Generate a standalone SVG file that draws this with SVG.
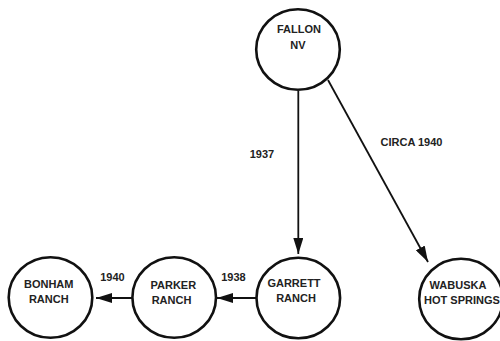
<svg xmlns="http://www.w3.org/2000/svg" width="500" height="341" viewBox="0 0 500 341">
<defs>
<marker id="ah" markerWidth="16" markerHeight="10" refX="16" refY="5" orient="auto" markerUnits="userSpaceOnUse">
<path d="M0,0 L16,5 L0,10 Z" fill="#111"/>
</marker>
<style>
.node ellipse{fill:#fff;stroke:#111;stroke-width:2.6}
.node text, .lbl{font-family:"Liberation Sans",Arial,sans-serif;font-size:11px;font-weight:bold;fill:#222;text-anchor:middle}
.edge{stroke:#111;stroke-width:1.8;fill:none}
</style>
</defs>
<rect width="500" height="341" fill="#fff"/>
<g id="connectors">
<line class="edge" x1="298.3" y1="91" x2="298.3" y2="254" marker-end="url(#ah)"/>
<line class="edge" x1="328" y1="80" x2="428" y2="262" marker-end="url(#ah)"/>
<line class="edge" x1="256" y1="298" x2="217" y2="298" marker-end="url(#ah)"/>
<line class="edge" x1="132" y1="298" x2="96" y2="298" marker-end="url(#ah)"/>
<text class="lbl" x="262" y="158">1937</text>
<text class="lbl" x="411.5" y="146">CIRCA 1940</text>
<text class="lbl" x="233.5" y="281">1938</text>
<text class="lbl" x="112.5" y="281">1940</text>
</g>
<g id="fallon" class="node">
<ellipse cx="298" cy="49.5" rx="41.8" ry="40.3"/>
<text x="299" y="32.5">FALLON</text>
<text x="298" y="49">NV</text>
</g>
<g id="garrett" class="node">
<ellipse cx="298.3" cy="298" rx="41.8" ry="40.3"/>
<text x="294" y="287.3">GARRETT</text>
<text x="296" y="301.7">RANCH</text>
</g>
<g id="wabuska" class="node">
<ellipse cx="461" cy="299" rx="41.8" ry="40.3"/>
<text x="458" y="289.3">WABUSKA</text>
<text x="462" y="304">HOT SPRINGS</text>
</g>
<g id="parker" class="node">
<ellipse cx="174.2" cy="297.5" rx="41.8" ry="40.3"/>
<text x="173.3" y="289.3">PARKER</text>
<text x="171.5" y="304">RANCH</text>
</g>
<g id="bonham" class="node">
<ellipse cx="50.5" cy="297.5" rx="41.8" ry="40.3"/>
<text x="48.7" y="287.7">BONHAM</text>
<text x="48.8" y="302.7">RANCH</text>
</g>
</svg>
